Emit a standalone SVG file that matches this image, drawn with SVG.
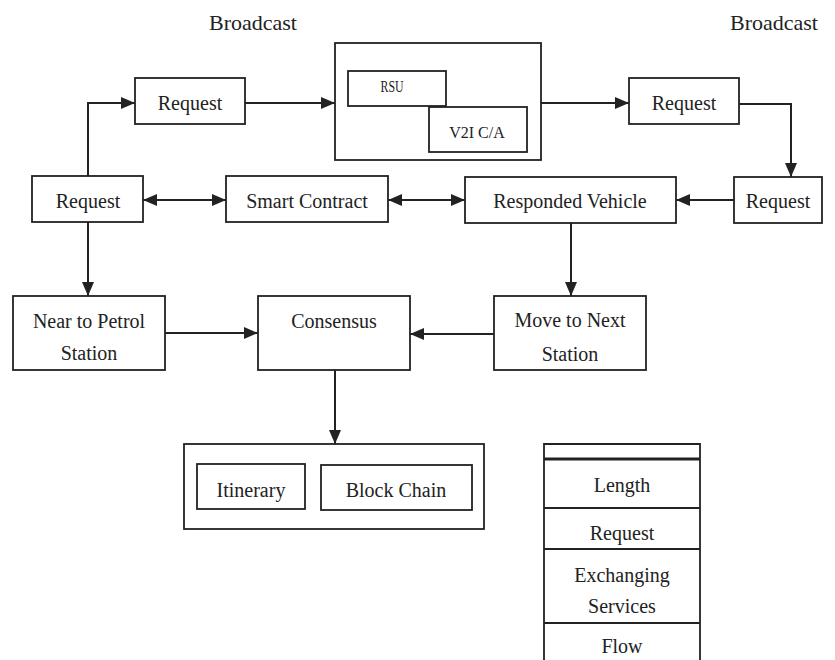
<svg xmlns="http://www.w3.org/2000/svg" width="835" height="660" viewBox="0 0 835 660">
<style>
.bx{fill:#fff;stroke:#222;stroke-width:1.8}
.t{font-family:"Liberation Serif","Times New Roman",serif;font-size:20px;fill:#222;text-anchor:middle}
.s{font-size:16px}
.b{font-size:22px}
.c{fill:none;stroke:#222;stroke-width:2}
</style>
<defs>
<marker id="ah" markerUnits="userSpaceOnUse" markerWidth="14" markerHeight="12" refX="14" refY="6" orient="auto-start-reverse">
<path d="M0,0 L14,6 L0,12 z" fill="#222"/>
</marker>
</defs>
<rect width="835" height="660" fill="#fff"/>
<text class="t b" x="253" y="30">Broadcast</text>
<text class="t b" x="774" y="30">Broadcast</text>
<g id="connectors">
<path class="c" d="M88,176 V103 H135" marker-end="url(#ah)"/>
<path class="c" d="M245,103 H335" marker-end="url(#ah)"/>
<path class="c" d="M541,103 H629" marker-end="url(#ah)"/>
<path class="c" d="M739,104 H791 V177" marker-end="url(#ah)"/>
<path class="c" d="M734,200 H676" marker-end="url(#ah)"/>
<path class="c" d="M143,200 H226" marker-start="url(#ah)" marker-end="url(#ah)"/>
<path class="c" d="M388,200 H465" marker-start="url(#ah)" marker-end="url(#ah)"/>
<path class="c" d="M88,222 V296" marker-end="url(#ah)"/>
<path class="c" d="M571,223 V296" marker-end="url(#ah)"/>
<path class="c" d="M165,333 H258" marker-end="url(#ah)"/>
<path class="c" d="M494,334 H410" marker-end="url(#ah)"/>
<path class="c" d="M335,370 V444" marker-end="url(#ah)"/>
</g>
<g id="request-top"><rect class="bx" x="135" y="78" width="110" height="46"/><text class="t" x="190" y="110">Request</text></g>
<g id="rsu-group">
<rect class="bx" x="335" y="43" width="206" height="117"/>
<g id="rsu"><rect class="bx" x="348" y="71" width="98" height="35"/><text class="t s" x="392" y="92" textLength="23" lengthAdjust="spacingAndGlyphs">RSU</text></g>
<g id="v2i"><rect class="bx" x="429" y="107" width="98" height="45"/><text class="t s" x="477" y="138">V2I C/A</text></g>
</g>
<g id="request-top-right"><rect class="bx" x="629" y="78" width="110" height="46"/><text class="t" x="684" y="110">Request</text></g>
<g id="request-left"><rect class="bx" x="32" y="176" width="111" height="46"/><text class="t" x="88" y="208">Request</text></g>
<g id="smart-contract"><rect class="bx" x="226" y="176" width="162" height="46"/><text class="t" x="307" y="208">Smart Contract</text></g>
<g id="responded-vehicle"><rect class="bx" x="465" y="177" width="211" height="46"/><text class="t" x="570" y="208">Responded Vehicle</text></g>
<g id="request-right"><rect class="bx" x="734" y="177" width="88" height="46"/><text class="t" x="778" y="208">Request</text></g>
<g id="near-petrol"><rect class="bx" x="13" y="296" width="152" height="74"/><text class="t" x="89" y="328">Near to Petrol</text><text class="t" x="89" y="360">Station</text></g>
<g id="consensus"><rect class="bx" x="258" y="296" width="152" height="74"/><text class="t" x="334" y="328">Consensus</text></g>
<g id="move-next"><rect class="bx" x="494" y="296" width="152" height="74"/><text class="t" x="570" y="327">Move to Next</text><text class="t" x="570" y="361">Station</text></g>
<g id="ledger">
<rect class="bx" x="184" y="444" width="300" height="85"/>
<g id="itinerary"><rect class="bx" x="197" y="464" width="108" height="45"/><text class="t" x="251" y="497">Itinerary</text></g>
<g id="blockchain"><rect class="bx" x="321" y="465" width="151" height="45"/><text class="t" x="396" y="497">Block Chain</text></g>
</g>
<g id="packet">
<path d="M544,660 V444 H700 V660" fill="#fff" stroke="#222" stroke-width="1.8"/>
<line x1="544" y1="459" x2="700" y2="459" stroke="#222" stroke-width="3"/>
<line x1="544" y1="508" x2="700" y2="508" stroke="#222" stroke-width="1.8"/>
<line x1="544" y1="549" x2="700" y2="549" stroke="#222" stroke-width="1.8"/>
<line x1="544" y1="623" x2="700" y2="623" stroke="#222" stroke-width="1.8"/>
<text class="t" x="622" y="492">Length</text>
<text class="t" x="622" y="540">Request</text>
<text class="t" x="622" y="582">Exchanging</text>
<text class="t" x="622" y="613">Services</text>
<text class="t" x="622" y="653">Flow</text>
</g>
</svg>
